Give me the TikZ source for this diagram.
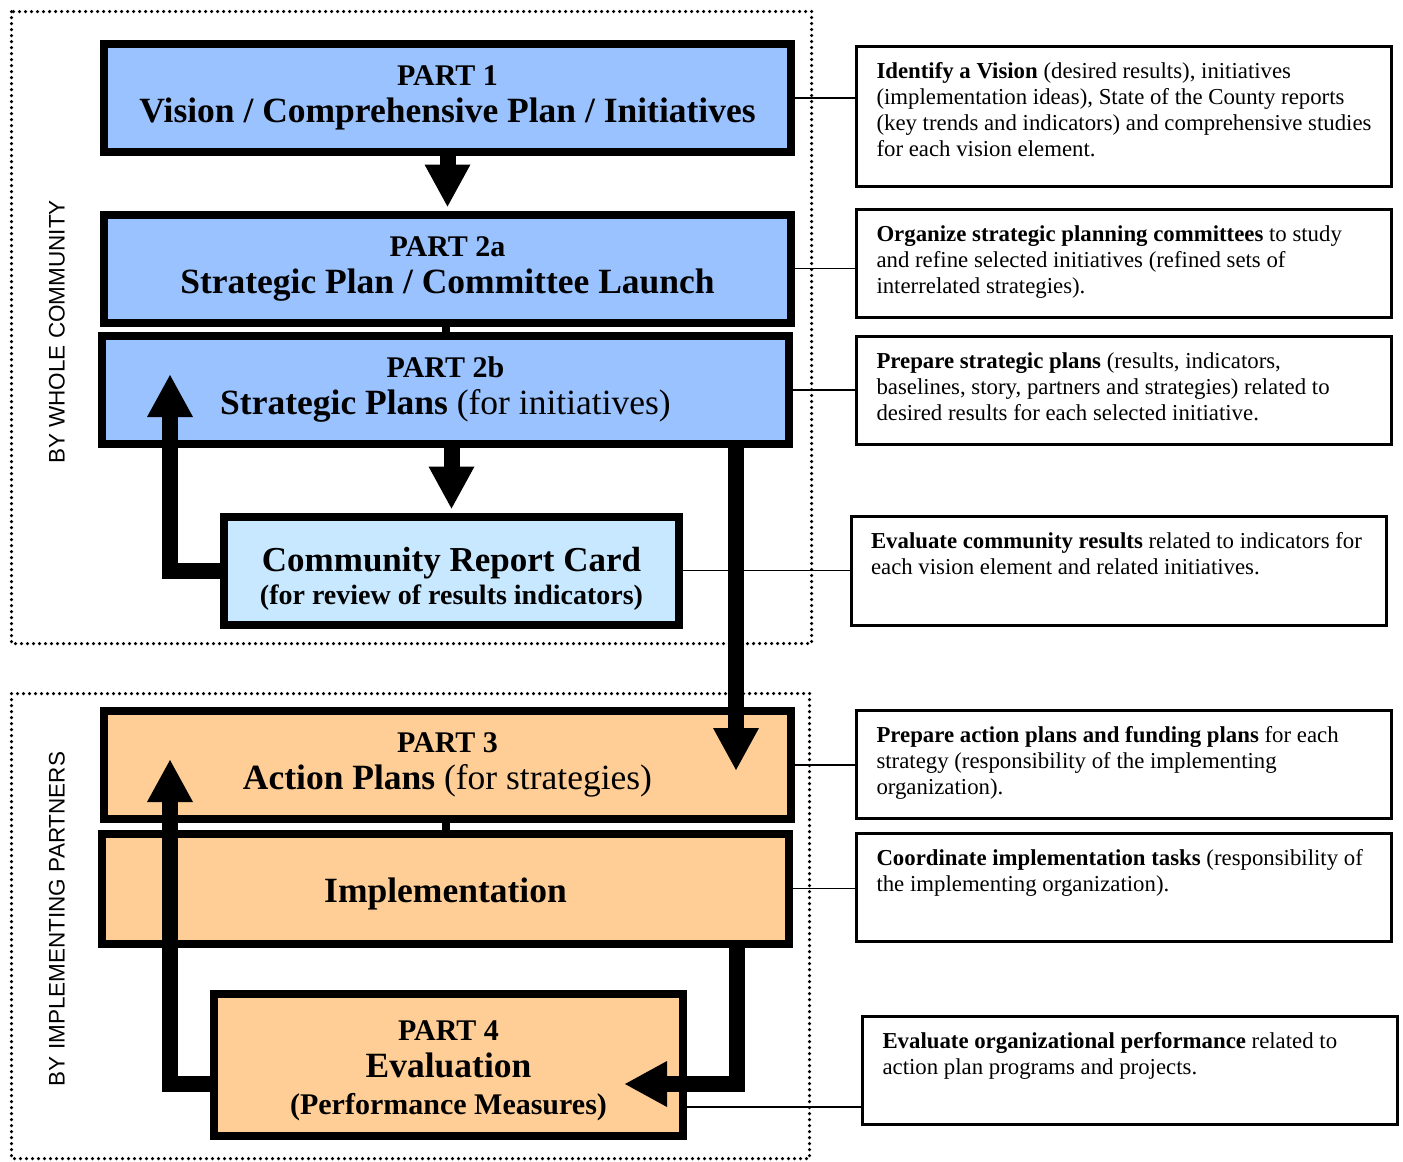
\documentclass[tikz,border=0pt]{standalone}
\usepackage{fontspec}
\setmainfont{Liberation Serif}
\newfontfamily\sidefont{Liberation Sans}
\usetikzlibrary{arrows.meta,positioning,calc}
\definecolor{planblue}{RGB}{153,194,255}
\definecolor{cardblue}{RGB}{199,232,255}
\definecolor{actorange}{RGB}{255,206,150}
\newcommand{\notetext}[2]{\parbox[c][#1][t]{495pt}{\raggedright #2}}
\newcommand{\partline}[1]{{\fontsize{30}{37}\selectfont #1}}
\begin{document}
\begin{tikzpicture}[x=1pt,y=-1pt,
	part box/.style = {rectangle,draw,line width=8pt,inner sep=0pt,align=center,
		minimum width=687pt,minimum height=108pt,font=\fontsize{35.5}{37}\selectfont\bfseries},
	note box/.style = {rectangle,draw,line width=3pt,inner xsep=20pt,inner ysep=16pt,
		font=\fontsize{22.8}{26}\selectfont},
	side label/.style = {rotate=90,font=\sidefont\fontsize{22.5}{27}\selectfont},
	zone/.style = {line width=3.5pt,line cap=round,dash pattern=on 0pt off 6pt},
	big arrow/.style = {line width=16pt,-{Triangle[width=46pt,length=42pt,line width=0pt]}},
	link/.style = {line width=1.5pt}]
	\useasboundingbox (0,0) rectangle (1403,1162);
	\draw[zone] (11.5,11.5) rectangle (811.5,643.5);
	\draw[zone] (11.5,693.5) rectangle (809.5,1158.5);
	\node[side label] (lab1) at (57,332) {BY WHOLE COMMUNITY};
	\node[side label] (lab2) at (57,919) {BY IMPLEMENTING PARTNERS};
	
	\node[part box,fill=planblue] (p1) at (447.5,98) {\partline{PART 1}\\Vision / Comprehensive Plan / Initiatives};
	\node[part box,fill=planblue] (p2a) at (447.5,268.5) {\partline{PART 2a}\\Strategic Plan / Committee Launch};
	\node[part box,fill=planblue] (p2b) at (445.5,390) {\partline{PART 2b}\\Strategic Plans {\mdseries (for initiatives)}};
	\node[part box,fill=cardblue,minimum width=455pt,font=\fontsize{35}{33}\selectfont\bfseries] (crc) at (451.5,570.5)
		{\rule{0pt}{40pt}Community Report Card\\{\fontsize{28}{33}\selectfont (for review of results indicators)}};
	\node[part box,fill=actorange] (p3) at (447.5,765) {\partline{PART 3}\\Action Plans {\mdseries (for strategies)}};
	\node[part box,fill=actorange,minimum height=110pt] (impl) at (445.5,888.5) {\rule{0pt}{36pt}Implementation};
	\node[part box,fill=actorange,minimum width=469pt,minimum height=142pt] (p4) at (448.5,1065)
		{\rule{0pt}{32pt}\partline{PART 4}\\Evaluation\\{\fontsize{30}{36}\selectfont (Performance Measures)}};
	
	\node[note box] (r1) at (1124,116.5) {\notetext{108pt}{\textbf{Identify a Vision} (desired results), initiatives\\
		(implementation ideas), State of the County reports\\(key trends and indicators) and comprehensive studies\\for each vision element.}};
	\node[note box] (r2) at (1124,263.5) {\notetext{76pt}{\textbf{Organize strategic planning committees} to study\\
		and refine selected initiatives (refined sets of\\interrelated strategies).}};
	\node[note box] (r3) at (1124,390.5) {\notetext{76pt}{\textbf{Prepare strategic plans} (results, indicators,\\
		baselines, story, partners and strategies) related to\\desired results for each selected initiative.}};
	\node[note box] (r4) at (1118.5,571) {\notetext{77pt}{\textbf{Evaluate community results} related to indicators for\\
		each vision element and related initiatives.}};
	\node[note box] (r5) at (1124,764.5) {\notetext{76pt}{\textbf{Prepare action plans and funding plans} for each\\
		strategy (responsibility of the implementing\\organization).}};
	\node[note box] (r6) at (1124,887.5) {\notetext{76pt}{\textbf{Coordinate implementation tasks} (responsibility of\\
		the implementing organization).}};
	\node[note box] (r7) at (1130,1070.5) {\notetext{76pt}{\textbf{Evaluate organizational performance} related to\\
		action plan programs and projects.}};
	
	\draw[link] (p1.east) -- (p1.east -| r1.west);
	\draw[link] (p2a.east) -- (p2a.east -| r2.west);
	\draw[link] (p2b.east) -- (p2b.east -| r3.west);
	\draw[link] (crc.east) -- (crc.east -| r4.west);
	\draw[link] (p3.east) -- (p3.east -| r5.west);
	\draw[link] (impl.east) -- (impl.east -| r6.west);
	\draw[link] ([yshift=-42pt]p4.east) -- ([yshift=-42pt]p4.east -| r7.west);
	
	\draw[line width=8pt] (p2b.north) -- (p2b.north |- p2a.south);
	\draw[line width=8pt] (impl.north) -- (impl.north |- p3.south);
	
	\coordinate (up1) at (170,375);
	\coordinate (down3) at (736,770);
	\coordinate (bend4) at (737,1084);
	\coordinate (left4) at (625,1084);
	\coordinate (up3) at (170,760);
	\draw[big arrow,shorten >=4pt] (p1.south) -- (p2a.north);
	\draw[big arrow,shorten >=4pt] (crc.north |- p2b.south) -- (crc.north);
	\draw[big arrow] (crc.west) -| (up1);
	\draw[big arrow] (down3 |- p2b.south) -- (down3);
	\draw[big arrow] (impl.south -| bend4) -- (bend4) -- (left4);
	\draw[big arrow] (p4.west |- bend4) -| (up3);
\end{tikzpicture}
\end{document}
